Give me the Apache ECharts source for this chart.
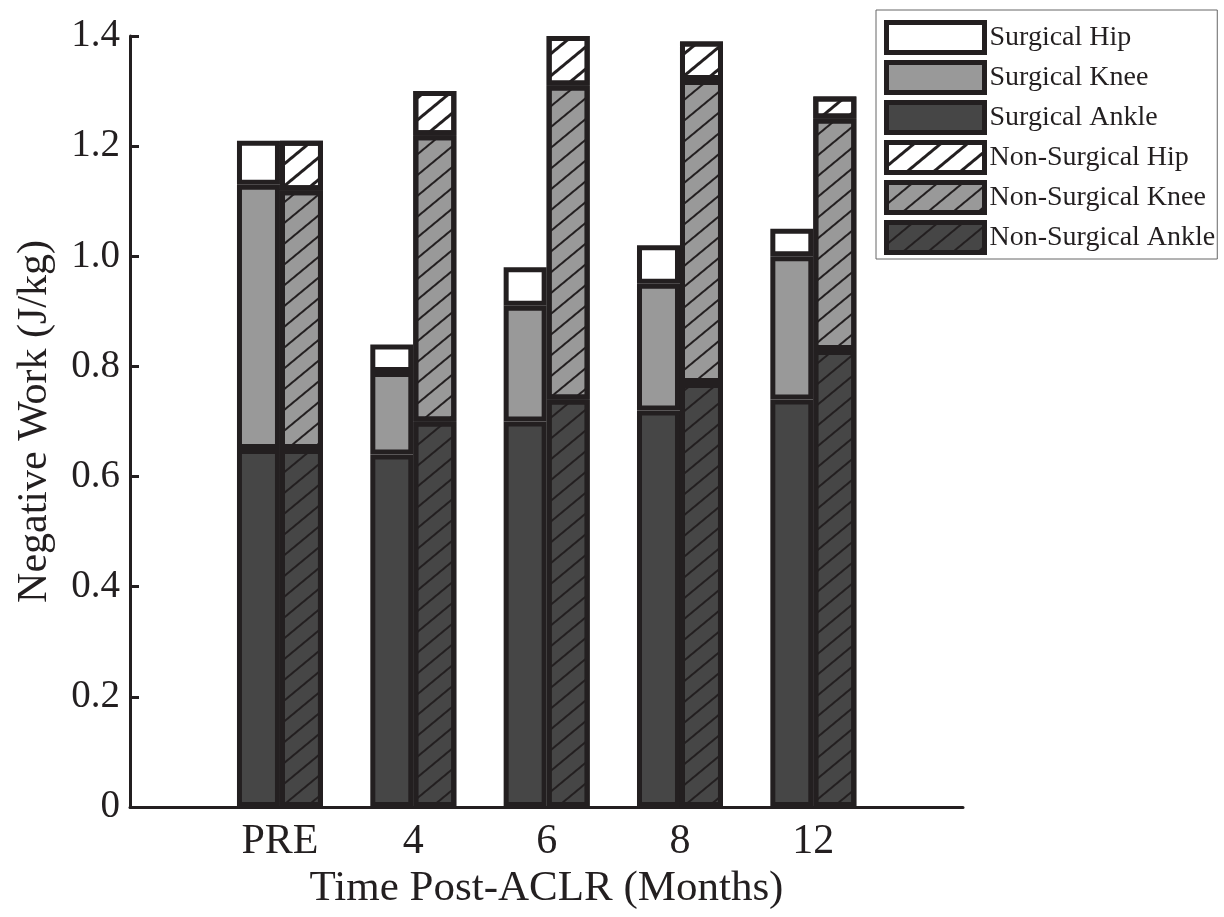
<!DOCTYPE html>
<html>
<head>
<meta charset="utf-8">
<script src="https://cdn.jsdelivr.net/npm/echarts@6/dist/echarts.min.js"></script>
<style>
html,body{margin:0;padding:0;background:#fff;}
#chart{width:1224px;height:917px;}
</style>
</head>
<body>
<div id="chart"></div>
<script>
// ---- data ----
var categories = ['PRE', '4', '6', '8', '12'];
var surgicalAnkle = [0.65, 0.64, 0.70, 0.72, 0.74];
var surgicalKnee = [0.48, 0.15, 0.21, 0.23, 0.26];
var surgicalHip = [0.08, 0.05, 0.07, 0.07, 0.05];
var nonSurgicalAnkle = [0.65, 0.70, 0.74, 0.77, 0.83];
var nonSurgicalKnee = [0.47, 0.52, 0.57, 0.55, 0.42];
var nonSurgicalHip = [0.09, 0.08, 0.09, 0.07, 0.04];

var INK = '#231f20';
var WHITE = '#ffffff', GRAY = '#999999', DARK = '#464646';
var FONT = '"Liberation Serif", "Times New Roman", serif';

function hatch(w) {
  return { symbol: 'rect', symbolSize: 1, dashArrayX: [1, 0], dashArrayY: [w, 16 - w], rotation: -Math.PI * 0.22, color: INK };
}
function mk(name, arr, stack, color, hatched) {
  var s = {
    name: name, type: 'bar', stack: stack, data: arr.slice(),
    xAxisIndex: 0, yAxisIndex: 0,
    barWidth: 43, barGap: '0%',
    itemStyle: { color: color, borderColor: INK, borderWidth: 5 },
    emphasis: { disabled: true }
  };
  if (hatched) s.itemStyle.decal = hatch(color === WHITE ? 2.6 : 2);
  return s;
}

var chart = echarts.init(document.getElementById('chart'), null, { renderer: 'canvas' });
chart.setOption({
  animation: false,
  backgroundColor: '#fff',
  grid: [
    { left: 213.3, right: 344, top: 36, bottom: 110, containLabel: false },
    { left: 130, right: 261, top: 36, bottom: 110, containLabel: false }
  ],
  legend: {
    orient: 'vertical', left: 876, top: 10,
    padding: [10, 2, 4, 8],
    backgroundColor: '#fff', borderColor: '#666', borderWidth: 1,
    itemWidth: 98, itemHeight: 30, itemGap: 5, itemTextGap: 4,
    icon: 'rect',
    itemStyle: { borderWidth: 5, borderColor: INK },
    textStyle: { fontFamily: FONT, fontSize: 28, color: INK },
    data: ['Surgical Hip', 'Surgical Knee', 'Surgical Ankle', 'Non-Surgical Hip', 'Non-Surgical Knee', 'Non-Surgical Ankle']
  },
  xAxis: [
    {
      type: 'category', gridIndex: 0, data: categories,
      axisLine: { show: false }, axisTick: { show: false },
      axisLabel: { margin: 14, fontFamily: FONT, fontSize: 42, color: INK },
      splitLine: { show: false }
    },
    {
      type: 'value', gridIndex: 1, min: 0, max: 1,
      name: 'Time Post-ACLR (Months)', nameLocation: 'middle', nameGap: 60,
      nameTextStyle: { fontFamily: FONT, fontSize: 43, color: INK },
      splitLine: { show: false },
      axisLine: { show: true, onZero: false, lineStyle: { color: INK, width: 3 } },
      axisTick: { show: false }, axisLabel: { show: false }
    }
  ],
  yAxis: [
    {
      type: 'value', gridIndex: 0, min: 0, max: 1.4, interval: 0.2,
      show: false
    },
    {
      type: 'value', gridIndex: 1, min: 0, max: 1.4, interval: 0.2,
      name: 'Negative Work (J/kg)', nameLocation: 'middle', nameGap: 74,
      nameTextStyle: { fontFamily: FONT, fontSize: 42, color: INK },
      splitLine: { show: false },
      axisLine: { show: true, lineStyle: { color: INK, width: 3 } },
      axisTick: { show: true, inside: true, length: 9, lineStyle: { color: INK, width: 3 } },
      axisLabel: {
        margin: 10, fontFamily: FONT, fontSize: 39, color: INK,
        formatter: function (v) { return v === 0 ? '0' : v.toFixed(1); }
      }
    }
  ],
  series: [
    mk('Surgical Ankle', surgicalAnkle, 'S', DARK, false),
    mk('Surgical Knee', surgicalKnee, 'S', GRAY, false),
    mk('Surgical Hip', surgicalHip, 'S', WHITE, false),
    mk('Non-Surgical Ankle', nonSurgicalAnkle, 'N', DARK, true),
    mk('Non-Surgical Knee', nonSurgicalKnee, 'N', GRAY, true),
    mk('Non-Surgical Hip', nonSurgicalHip, 'N', WHITE, true)
  ]
});
</script>
</body>
</html>
